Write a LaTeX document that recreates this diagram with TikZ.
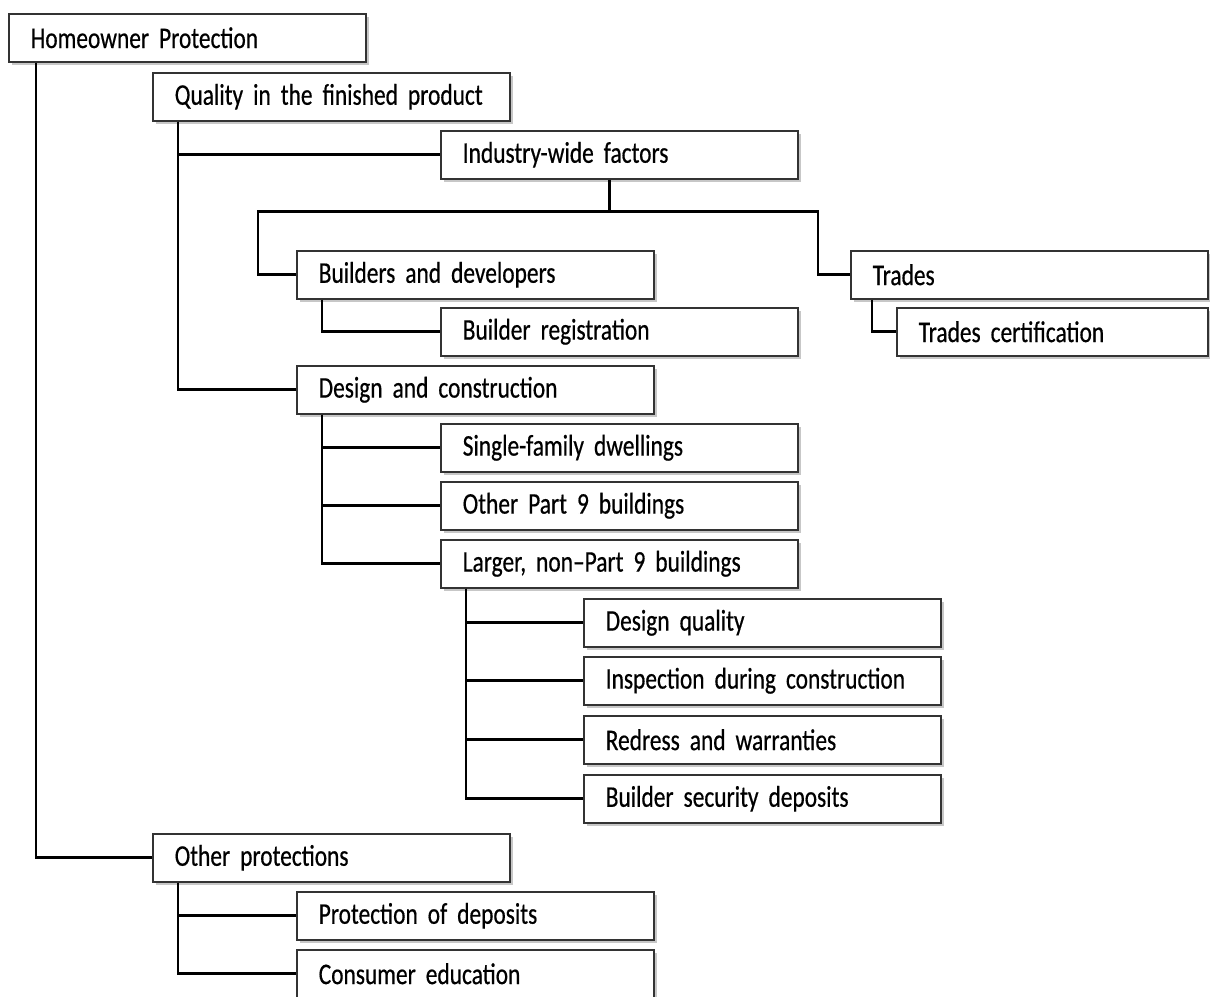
\documentclass[tikz,border=0pt]{standalone}
\usepackage{fontspec}
\setmainfont{Carlito}[FakeStretch=0.78, WordSpace=0.7, FakeBold=0.5]
\usetikzlibrary{shadows}
\begin{document}
\begin{tikzpicture}[x=1pt,y=-1pt,
    box/.style={draw=black!80, line width=1.5pt, fill=white, anchor=north west,
      minimum height=48pt, text width=#1, inner xsep=22pt, inner ysep=0pt, align=left,
      font=\fontsize{30}{34}\selectfont,
      drop shadow={shadow xshift=3pt, shadow yshift=-3pt, fill=black, opacity=0.22}},
    box/.default=313pt,
    link/.style={line width=2.6pt}]
  \useasboundingbox (0,0) rectangle (1210,996);
  \clip (0,0) rectangle (1210,996);
  \node[box] (h) at (8,13) {Homeowner Protection};
  \node[box] (q) at (152,72) {Quality in the finished product};
  \node[box] (i) at (440,130) {Industry-wide factors};
  \node[box] (b) at (296,250) {Builders and developers};
  \node[box] (t) at (850,250) {Trades};
  \node[box] (br) at (440,307) {Builder registration};
  \node[box=267pt] (tc) at (896,307) {Trades certification};
  \node[box] (d) at (296,365) {Design and construction};
  \node[box] (s1) at (440,423) {Single-family dwellings};
  \node[box] (s2) at (440,481) {Other Part 9 buildings};
  \node[box] (s3) at (440,539) {Larger, non--Part 9 buildings};
  \node[box] (l1) at (583,598) {Design quality};
  \node[box] (l2) at (583,656) {Inspection during construction};
  \node[box] (l3) at (583,715) {Redress and warranties};
  \node[box] (l4) at (583,774) {Builder security deposits};
  \node[box] (op) at (152,833) {Other protections};
  \node[box] (p1) at (296,891) {Protection of deposits};
  \node[box] (p2) at (296,949) {Consumer education};
  \coordinate (j) at ([xshift=-10pt,yshift=-32pt]i.south);
  \draw[link] ([xshift=28pt]h.south west) |- (op.west);
  \draw[link] ([xshift=26pt]q.south west) |- (i.west);
  \draw[link] ([xshift=26pt]q.south west) |- (d.west);
  \draw[link] ([xshift=-10pt]i.south) -- (j);
  \draw[link] (b.west) -- ++(-38,0) |- (j);
  \draw[link] (t.west) -- ++(-32,0) |- (j);
  \draw[link] ([xshift=26pt]b.south west) |- (br.west);
  \draw[link] ([xshift=22pt]t.south west) |- (tc.west);
  \foreach \n in {s1,s2,s3}
    \draw[link] ([xshift=26pt]d.south west) |- (\n.west);
  \foreach \n in {l1,l2,l3,l4}
    \draw[link] ([xshift=26pt]s3.south west) |- (\n.west);
  \foreach \n in {p1,p2}
    \draw[link] ([xshift=26pt]op.south west) |- (\n.west);
\end{tikzpicture}
\end{document}
